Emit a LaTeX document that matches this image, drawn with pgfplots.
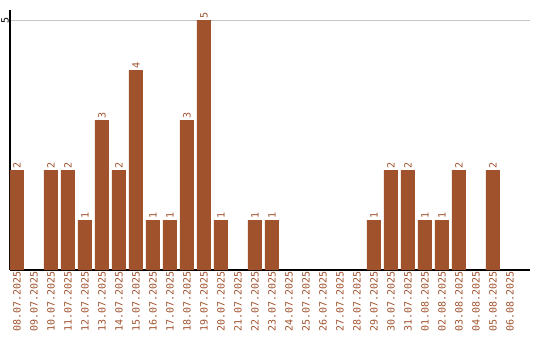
\documentclass[border=0pt]{standalone}
\usepackage{fontspec}
\setmainfont{DejaVu Sans Mono}
\usepackage{pgfplots}
\pgfplotsset{compat=1.18}
\definecolor{barc}{HTML}{A0522D}
\begin{document}
\begin{tikzpicture}
\begin{axis}[
  scale only axis,
  width=520bp, height=260bp,
  xmin=-0.41, xmax=30.18,
  ymin=0, ymax=5.2,
  axis lines*=left,
  axis line style={black, line width=1.2bp},
  xtick={0,...,29},
  xticklabels={08.07.2025,09.07.2025,10.07.2025,11.07.2025,12.07.2025,13.07.2025,14.07.2025,15.07.2025,16.07.2025,17.07.2025,18.07.2025,19.07.2025,20.07.2025,21.07.2025,22.07.2025,23.07.2025,24.07.2025,25.07.2025,26.07.2025,27.07.2025,28.07.2025,29.07.2025,30.07.2025,31.07.2025,01.08.2025,02.08.2025,03.08.2025,04.08.2025,05.08.2025,06.08.2025},
  xticklabel style={rotate=90, anchor=east, font=\fontsize{10bp}{10bp}\selectfont, text=barc, inner sep=1bp, xshift=0bp},
  xtick style={draw=none},
  ytick={5},
  ytick style={draw=none},
  yticklabel style={rotate=90, anchor=south, font=\fontsize{10bp}{10bp}\selectfont, inner sep=1bp},
  /pgf/number format/assume math mode=true,
  ymajorgrids,
  grid style={gray!45, line width=0.8bp},
  clip=false,
]
\addplot[ybar, bar width=14bp, fill=barc, draw=none,
  nodes near coords,
  every node near coord/.append style={rotate=90, anchor=west, font=\fontsize{10bp}{10bp}\selectfont, text=barc, inner sep=1bp}]
coordinates {
(0,2) (2,2) (3,2) (4,1) (5,3) (6,2) (7,4) (8,1) (9,1) (10,3) (11,5) (12,1)
(14,1) (15,1) (21,1) (22,2) (23,2) (24,1) (25,1) (26,2) (28,2)
};
\end{axis}
\path[use as bounding box] (-10bp,-70bp) rectangle (530bp,270bp);
\end{tikzpicture}
\end{document}
